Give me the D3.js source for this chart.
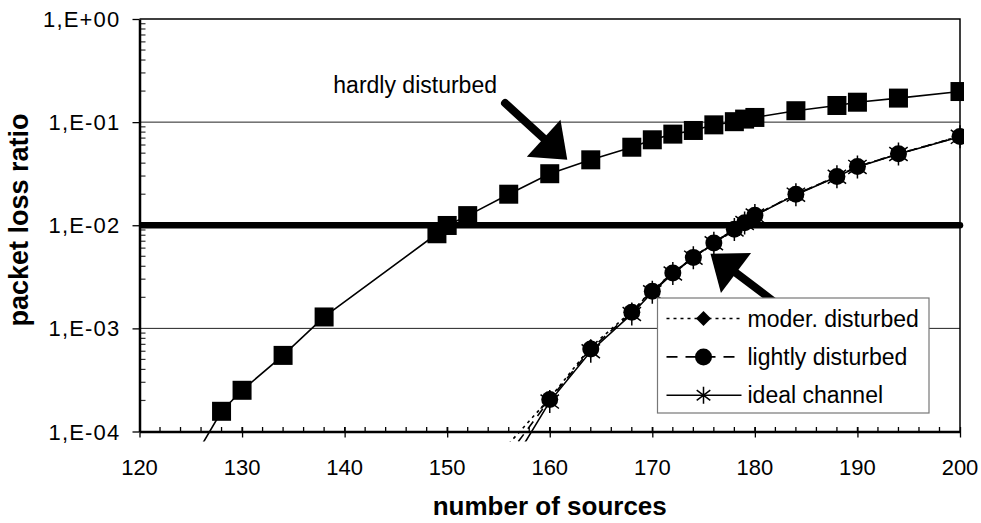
<!DOCTYPE html>
<html>
<head>
<meta charset="utf-8">
<title>packet loss ratio</title>
<style>
  html, body { margin: 0; padding: 0; background: #fff; overflow: hidden; }
  svg { display: block; }
  text { font-family: 'Liberation Sans', Arial, sans-serif; fill: #000; }
</style>
</head>
<body>
<svg id="main" width="981" height="523"></svg>
<script src="https://cdn.jsdelivr.net/npm/d3@7.0.1/dist/d3.min.js"></script>
<script>
// number of sources
const hardX = [126, 128, 130, 134, 138, 149, 150, 152, 156, 160, 164, 168, 170, 172, 174, 176, 178, 179, 180, 184, 188, 190, 194, 200]
const hardly = [7.2e-5, 1.57e-4, 2.51e-4, 5.47e-4, 1.29e-3, 8.27e-3, 9.95e-3, 1.24e-2, 2.0e-2, 3.16e-2, 4.31e-2, 5.71e-2, 6.74e-2, 7.65e-2, 8.3e-2, 9.41e-2, 0.101, 0.107, 0.111, 0.129, 0.145, 0.156, 0.171, 0.198]

const lowX = [156, 160, 164, 168, 170, 172, 174, 176, 178, 179, 180, 184, 188, 190, 194, 200]
const moder = [7.6e-5, 2.1e-4, 6.6e-4, 1.47e-3, 2.32e-3, 3.46e-3, 4.9e-3, 6.75e-3, 9.2e-3, 1.06e-2, 1.25e-2, 2.0e-2, 2.97e-2, 3.71e-2, 4.93e-2, 7.3e-2]
const lightly = [6.0e-5, 2.04e-4, 6.3e-4, 1.43e-3, 2.29e-3, 3.44e-3, 4.88e-3, 6.73e-3, 9.15e-3, 1.06e-2, 1.25e-2, 2.0e-2, 2.97e-2, 3.71e-2, 4.93e-2, 7.25e-2]
const ideal = [4.3e-5, 1.95e-4, 6.0e-4, 1.38e-3, 2.24e-3, 3.4e-3, 4.85e-3, 6.7e-3, 9.1e-3, 1.05e-2, 1.24e-2, 1.98e-2, 2.95e-2, 3.68e-2, 4.9e-2, 7.2e-2]

// target loss ratio
const limitX = [120, 200]
const limit = [1e-2, 1e-2]

const xTicks = [120, 130, 140, 150, 160, 170, 180, 190, 200]
const yTicks = [1e-4, 1e-3, 1e-2, 1e-1, 1]
const yTickLabels = ['1,E-04', '1,E-03', '1,E-02', '1,E-01', '1,E+00']

const svg = d3.select('#main')
const margin = { top: 19, right: 21, bottom: 91.5, left: 139.5 }
const width = +svg.attr('width')
const height = +svg.attr('height')
const innerWidth = width - margin.left - margin.right
const innerHeight = height - margin.top - margin.bottom

const g = svg.append('g').attr('transform', `translate(${margin.left}, ${margin.top})`)

const xScale = d3.scaleLinear().domain([120, 200]).range([0, innerWidth])
const yScale = d3.scaleLog().domain([1e-4, 1]).range([innerHeight, 0])

// gridlines
g.selectAll('.grid').data(yTicks.slice(1, -1))
  .join('line').attr('class', 'grid')
  .attr('x1', 0).attr('x2', innerWidth)
  .attr('y1', d => yScale(d)).attr('y2', d => yScale(d))
  .attr('stroke', '#222').attr('stroke-width', 1)

// frame top / right
g.append('path')
  .attr('d', `M0,0H${innerWidth}V${innerHeight}`)
  .attr('fill', 'none').attr('stroke', '#000').attr('stroke-width', 1.5)

// minor ticks
const xMinor = d3.range(122, 200, 2)
g.selectAll('.xminor').data(xMinor)
  .join('line').attr('class', 'xminor')
  .attr('x1', d => xScale(d)).attr('x2', d => xScale(d))
  .attr('y1', innerHeight).attr('y2', innerHeight - 4.5)
  .attr('stroke', '#000').attr('stroke-width', 1.3)

const yMinor = []
for (let e = -4; e < 0; e++) for (let k = 2; k <= 9; k++) yMinor.push(k * Math.pow(10, e))
g.selectAll('.yminor').data(yMinor)
  .join('line').attr('class', 'yminor')
  .attr('x1', 0).attr('x2', 6)
  .attr('y1', d => yScale(d)).attr('y2', d => yScale(d))
  .attr('stroke', '#333').attr('stroke-width', 1.2)

// axes (lines and major ticks; labels drawn below)
const xAxis = d3.axisBottom(xScale).tickValues(xTicks).tickSizeInner(6).tickSizeOuter(0).tickFormat('')
const yAxis = d3.axisLeft(yScale).tickValues(yTicks).tickSizeInner(7).tickSizeOuter(0).tickFormat('')

const xg = g.append('g').attr('transform', `translate(0, ${innerHeight})`).call(xAxis)
const yg = g.append('g').call(yAxis)
xg.selectAll('.tick line').attr('y1', -4.5)
for (const ax of [xg, yg]) {
  ax.select('.domain').attr('stroke-width', 2.5)
  ax.selectAll('.tick line').attr('stroke-width', 1.3)
  ax.selectAll('.tick text').remove()
}

g.selectAll('.xlabel').data(xTicks)
  .join('text').attr('class', 'xlabel')
  .attr('x', d => xScale(d)).attr('y', innerHeight + 43)
  .attr('text-anchor', 'middle').attr('font-size', 22)
  .text(d => d)

g.selectAll('.ylabel').data(yTicks)
  .join('text').attr('class', 'ylabel')
  .attr('x', -19).attr('y', d => yScale(d) + 8)
  .attr('text-anchor', 'end').attr('font-size', 22).attr('letter-spacing', 1.2)
  .text((d, i) => yTickLabels[i])

// series, clipped a little below the x axis
svg.append('defs').append('clipPath').attr('id', 'plotclip')
  .append('rect').attr('x', 0).attr('y', -2).attr('width', innerWidth + 4).attr('height', innerHeight + 12)

const plot = g.append('g').attr('clip-path', 'url(#plotclip)')

const line = d3.line().x(d => xScale(d[0])).y(d => yScale(d[1]))
const pairs = (xs, ys) => xs.map((x, i) => [x, ys[i]])
const inside = p => p[1] >= 1e-4

plot.append('path').datum(pairs(limitX, limit))
  .attr('d', line).attr('fill', 'none')
  .attr('stroke', '#000').attr('stroke-width', 6.5).attr('stroke-linecap', 'round')

plot.append('path').datum(pairs(hardX, hardly))
  .attr('d', line).attr('fill', 'none').attr('stroke', '#000').attr('stroke-width', 1.6)

plot.append('path').datum(pairs(lowX, ideal))
  .attr('d', line).attr('fill', 'none').attr('stroke', '#000').attr('stroke-width', 1.6)
plot.append('path').datum(pairs(lowX, lightly))
  .attr('d', line).attr('fill', 'none').attr('stroke', '#000').attr('stroke-width', 1.6)
  .attr('stroke-dasharray', '9,7')
plot.append('path').datum(pairs(lowX, moder))
  .attr('d', line).attr('fill', 'none').attr('stroke', '#000').attr('stroke-width', 1.6)
  .attr('stroke-dasharray', '3,4')

// markers
const diamond = (s) => `M0,${-s}L${s},0L0,${s}L${-s},0Z`
const asterisk = (a) => `M0,${-a}V${a}M${-0.8 * a},${-0.6 * a}L${0.8 * a},${0.6 * a}M${-0.8 * a},${0.6 * a}L${0.8 * a},${-0.6 * a}`

plot.selectAll('.sq').data(pairs(hardX, hardly).filter(inside))
  .join('rect').attr('class', 'sq')
  .attr('x', d => xScale(d[0]) - 9.5).attr('y', d => yScale(d[1]) - 9.5)
  .attr('width', 19).attr('height', 19).attr('fill', '#000')

plot.selectAll('.dia').data(pairs(lowX, moder).filter(inside))
  .join('path').attr('class', 'dia')
  .attr('transform', d => `translate(${xScale(d[0])},${yScale(d[1])})`)
  .attr('d', diamond(8)).attr('fill', '#000')

plot.selectAll('.dot').data(pairs(lowX, lightly).filter(inside))
  .join('circle').attr('class', 'dot')
  .attr('cx', d => xScale(d[0])).attr('cy', d => yScale(d[1])).attr('r', 8.5).attr('fill', '#000')

plot.selectAll('.ast').data(pairs(lowX, ideal).filter(inside))
  .join('path').attr('class', 'ast')
  .attr('transform', d => `translate(${xScale(d[0])},${yScale(d[1])})`)
  .attr('d', asterisk(11.5)).attr('fill', 'none').attr('stroke', '#000').attr('stroke-width', 1.5)

// arrows (given in data coordinates: from, to)
function arrow(from, to) {
  const x0 = xScale(from[0]), y0 = yScale(from[1])
  const x1 = xScale(to[0]), y1 = yScale(to[1])
  const len = Math.hypot(x1 - x0, y1 - y0)
  const ux = (x1 - x0) / len, uy = (y1 - y0) / len
  const hl = 32, hw = 25
  const bx = x1 - ux * hl, by = y1 - uy * hl
  g.append('line')
    .attr('x1', x0).attr('y1', y0).attr('x2', bx + ux * 4).attr('y2', by + uy * 4)
    .attr('stroke', '#000').attr('stroke-width', 8).attr('stroke-linecap', 'round')
  g.append('path')
    .attr('d', `M${x1},${y1}L${bx - uy * hw},${by + ux * hw}L${bx + uy * hw},${by - ux * hw}Z`)
    .attr('fill', '#000')
}
arrow([155.64, 0.153], [161.71, 0.0431])
arrow([181.76, 1.85e-3], [175.67, 5.3e-3])

g.append('text')
  .attr('x', xScale(138.9)).attr('y', yScale(0.191))
  .attr('font-size', 23).text('hardly disturbed')

// legend
const legendItems = [
  { name: 'moder. disturbed', dash: '3,4', mark: 'diamond' },
  { name: 'lightly disturbed', dash: '11,8', mark: 'circle' },
  { name: 'ideal channel', dash: null, mark: 'asterisk' }
]
const lg = svg.append('g').attr('transform', 'translate(657.5, 298)')
lg.append('rect').attr('width', 271.5).attr('height', 115)
  .attr('fill', '#fff').attr('stroke', '#777').attr('stroke-width', 1.2)
legendItems.forEach((it, i) => {
  const row = lg.append('g').attr('transform', `translate(0, ${20.5 + i * 38.4})`)
  row.append('line').attr('x1', 9).attr('x2', 84).attr('y1', 0).attr('y2', 0)
    .attr('stroke', '#000').attr('stroke-width', 1.6)
    .attr('stroke-dasharray', it.dash)
  if (it.mark === 'diamond') row.append('path').attr('transform', 'translate(46,0)').attr('d', diamond(7.5))
  if (it.mark === 'circle') row.append('circle').attr('cx', 46).attr('r', 8.5)
  if (it.mark === 'asterisk') row.append('path').attr('transform', 'translate(46,0)').attr('d', asterisk(8.5))
    .attr('fill', 'none').attr('stroke', '#000').attr('stroke-width', 1.5)
  row.append('text').attr('x', 90).attr('y', 8).attr('font-size', 23).text(it.name)
})

// axis titles
svg.append('text')
  .attr('x', margin.left + innerWidth / 2).attr('y', 515)
  .attr('text-anchor', 'middle').attr('font-size', 26).attr('font-weight', 'bold')
  .text('number of sources')
svg.append('text')
  .attr('transform', 'translate(28, 220) rotate(-90)')
  .attr('text-anchor', 'middle').attr('font-size', 27).attr('font-weight', 'bold')
  .text('packet loss ratio')
</script>
</body>
</html>
